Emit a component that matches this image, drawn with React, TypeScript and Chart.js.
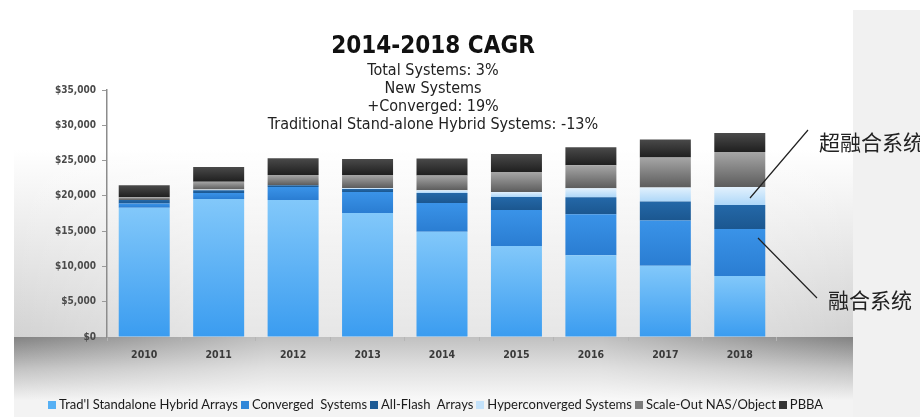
import React, { useEffect, useRef } from 'react';
import { Chart, registerables } from 'chart.js';

Chart.register(...registerables);

// ---------- data ----------
const years = ['2010', '2011', '2012', '2013', '2014', '2015', '2016', '2017', '2018'];
const tradHybrid = [18300, 19550, 19400, 17570, 14900, 12900, 11600, 10100, 8650];
const convergedSys = [600, 850, 1840, 2975, 4100, 5100, 5800, 6400, 6650];
const allFlash = [500, 400, 280, 425, 1400, 1840, 2400, 2700, 3400];
const hyperconverged = [0, 100, 0, 150, 400, 700, 1270, 2000, 2550];
const scaleOutNas = [400, 1100, 1420, 1840, 2100, 2830, 3260, 4250, 4960];
const pbba = [1700, 2100, 2400, 2270, 2400, 2550, 2550, 2550, 2690];

const seriesNames = [
  "Trad'l Standalone Hybrid Arrays",
  'Converged  Systems',
  'All-Flash  Arrays',
  'Hyperconverged Systems',
  'Scale-Out NAS/Object',
  'PBBA',
];
const yMin = 0;
const yMax = 35000;
const yStep = 5000;

const titleText = '2014-2018 CAGR';
const subtitleLines = [
  'Total Systems: 3%',
  'New Systems',
  '+Converged: 19%',
  'Traditional Stand-alone Hybrid Systems: -13%',
];
const noteHyper = '超融合系统';
const noteConverged = '融合系统';

// ---------- styles ----------
const seriesData = [tradHybrid, convergedSys, allFlash, hyperconverged, scaleOutNas, pbba];
const gradStops: [string, string][] = [
  ['#82c8fa', '#3a9cf0'],
  ['#3a93e8', '#2a7dd2'],
  ['#2468a8', '#1b5790'],
  ['#e2f1fd', '#aed7f8'],
  ['#a6a6a6', '#5c5c5c'],
  ['#4a4a4a', '#1f1f1f'],
];
const swatch = ['#56b0f4', '#2f86d8', '#1d5a94', '#c4e2fa', '#7c7c7c', '#333333'];

const FONT = "'DejaVu Sans Condensed', 'DejaVu Sans', sans-serif";

const bgPlugin = {
  id: 'bgPanel',
  beforeDraw(chart: any) {
    const ctx = chart.ctx as CanvasRenderingContext2D;
    const W = chart.width;
    const H = chart.height;
    const L = 14;
    const R = 853;
    const axisY = chart.chartArea.bottom;
    ctx.save();
    ctx.fillStyle = '#ffffff';
    ctx.fillRect(0, 0, W, H);
    // upper panel
    let g = ctx.createLinearGradient(0, 150, 0, axisY);
    g.addColorStop(0, '#ffffff');
    g.addColorStop(1, '#d2d2d2');
    ctx.fillStyle = g;
    ctx.fillRect(L, 150, R - L, axisY - 150);
    let h = ctx.createLinearGradient(L, 0, R, 0);
    h.addColorStop(0, 'rgba(255,255,255,0)');
    h.addColorStop(0.25, 'rgba(255,255,255,0.45)');
    h.addColorStop(0.75, 'rgba(255,255,255,0.45)');
    h.addColorStop(1, 'rgba(255,255,255,0)');
    ctx.fillStyle = h;
    ctx.fillRect(L, 150, R - L, axisY - 150);
    // floor
    const fb = 400;
    g = ctx.createLinearGradient(0, axisY, 0, fb);
    g.addColorStop(0, '#828282');
    g.addColorStop(0.5, '#c2c2c2');
    g.addColorStop(1, '#f3f3f3');
    ctx.fillStyle = g;
    ctx.fillRect(L, axisY, R - L, fb - axisY);
    h = ctx.createLinearGradient(L, 0, R, 0);
    h.addColorStop(0, 'rgba(255,255,255,0)');
    h.addColorStop(0.3, 'rgba(255,255,255,0.5)');
    h.addColorStop(0.7, 'rgba(255,255,255,0.5)');
    h.addColorStop(1, 'rgba(255,255,255,0)');
    ctx.fillStyle = h;
    ctx.fillRect(L, axisY, R - L, fb - axisY);
    ctx.fillStyle = '#f3f3f3';
    ctx.fillRect(L, fb, R - L, H - fb);
    // right panel
    ctx.fillStyle = '#f1f1f1';
    ctx.fillRect(R, 10, W - R, H - 10);
    ctx.restore();
  },
  afterDraw(chart: any) {
    const ctx = chart.ctx as CanvasRenderingContext2D;
    ctx.save();
    ctx.strokeStyle = '#222';
    ctx.lineWidth = 1.2;
    ctx.beginPath();
    ctx.moveTo(808, 130);
    ctx.lineTo(750, 198);
    ctx.moveTo(758, 238);
    ctx.lineTo(817, 298);
    ctx.stroke();
    ctx.restore();
  },
};

function segFill(dsIndex: number) {
  return (c: any) => {
    const chart = c.chart;
    const [top, bot] = gradStops[dsIndex];
    if (!chart.chartArea || c.type !== 'data') return bot;
    const i = c.dataIndex;
    let base = 0;
    for (let k = 0; k < dsIndex; k++) base += seriesData[k][i];
    const val = seriesData[dsIndex][i];
    const y = chart.scales.y;
    const y0 = y.getPixelForValue(base);
    const y1 = y.getPixelForValue(base + val);
    if (!isFinite(y0) || !isFinite(y1) || Math.abs(y0 - y1) < 0.5) return bot;
    const g = chart.ctx.createLinearGradient(0, y1, 0, y0);
    g.addColorStop(0, top);
    g.addColorStop(1, bot);
    return g;
  };
}

export default function App() {
  const ref = useRef<HTMLCanvasElement | null>(null);

  useEffect(() => {
    if (!ref.current) return;
    const chart = new Chart(ref.current, {
      type: 'bar',
      data: {
        labels: years,
        datasets: seriesData.map((d, k) => ({
          label: seriesNames[k],
          data: d,
          backgroundColor: segFill(k),
          borderWidth: 0,
          categoryPercentage: 1,
          barPercentage: 0.685,
        })),
      },
      options: {
        animation: false,
        responsive: false,
        devicePixelRatio: 1,
        layout: { padding: { left: 0, right: 143, top: 90, bottom: 0 } },
        plugins: {
          legend: { display: false },
          title: { display: false },
          tooltip: { enabled: false },
        },
        scales: {
          x: {
            stacked: true,
            grid: {
              display: true,
              drawOnChartArea: false,
              drawTicks: true,
              tickLength: 4,
              color: '#b5b5b5',
              offset: true,
            },
            border: { display: false },
            ticks: {
              color: '#3a3a3a',
              font: { family: FONT, size: 10.5, weight: 'bold' },
              padding: 8,
            },
            afterFit: (s: any) => {
              s.height = 80;
            },
          },
          y: {
            stacked: true,
            min: yMin,
            max: yMax,
            grid: {
              display: true,
              drawOnChartArea: false,
              drawTicks: true,
              tickLength: 5,
              color: '#9a9a9a',
            },
            border: { display: true, color: '#8c8c8c', width: 1.5 },
            ticks: {
              stepSize: yStep,
              color: '#4a4a4a',
              font: { family: FONT, size: 10, weight: 'bold' },
              padding: 6,
              callback: (v: any) => '$' + Number(v).toLocaleString('en-US'),
            },
            afterFit: (s: any) => {
              s.width = 107;
            },
          },
        },
      },
      plugins: [bgPlugin],
    });
    return () => chart.destroy();
  }, []);

  return (
    <div
      style={{
        position: 'absolute',
        left: 0,
        top: 0,
        width: 920,
        height: 417,
        overflow: 'hidden',
        background: '#fff',
      }}
    >
      <canvas ref={ref} width={920} height={417} style={{ width: 920, height: 417, display: 'block' }} />
      <div
        style={{
          position: 'absolute',
          left: 0,
          width: 866,
          top: 30.5,
          textAlign: 'center',
          fontFamily: FONT,
          fontWeight: 'bold',
          fontSize: 24,
          lineHeight: '28px',
          color: '#111',
          whiteSpace: 'nowrap',
        }}
      >
        {titleText}
      </div>
      <div
        style={{
          position: 'absolute',
          left: 0,
          width: 866,
          top: 60.5,
          textAlign: 'center',
          fontFamily: FONT,
          fontSize: 16,
          lineHeight: '18px',
          color: '#222',
          whiteSpace: 'nowrap',
        }}
      >
        {subtitleLines.map((s) => (
          <div key={s}>{s}</div>
        ))}
      </div>
      <div
        style={{
          position: 'absolute',
          left: 819,
          top: 130.5,
          fontFamily: "'Noto Sans CJK SC', sans-serif",
          fontSize: 21,
          lineHeight: '21px',
          color: '#222',
          whiteSpace: 'nowrap',
        }}
      >
        {noteHyper}
      </div>
      <div
        style={{
          position: 'absolute',
          left: 828,
          top: 288.5,
          fontFamily: "'Noto Sans CJK SC', sans-serif",
          fontSize: 21,
          lineHeight: '21px',
          color: '#222',
          whiteSpace: 'nowrap',
        }}
      >
        {noteConverged}
      </div>
      <div
        style={{
          position: 'absolute',
          left: 48,
          top: 397,
          display: 'flex',
          alignItems: 'center',
          fontFamily: "Lato, 'Noto Sans', sans-serif",
          fontSize: 13,
          lineHeight: '15px',
          color: '#1a1a1a',
          whiteSpace: 'pre',
        }}
      >
        {seriesNames.map((n, k) => (
          <div key={n} style={{ display: 'flex', alignItems: 'center', marginRight: 3 }}>
            <span
              style={{
                display: 'inline-block',
                width: 8,
                height: 8,
                background: swatch[k],
                marginRight: 3,
              }}
            />
            <span>{n}</span>
          </div>
        ))}
      </div>
    </div>
  );
}
